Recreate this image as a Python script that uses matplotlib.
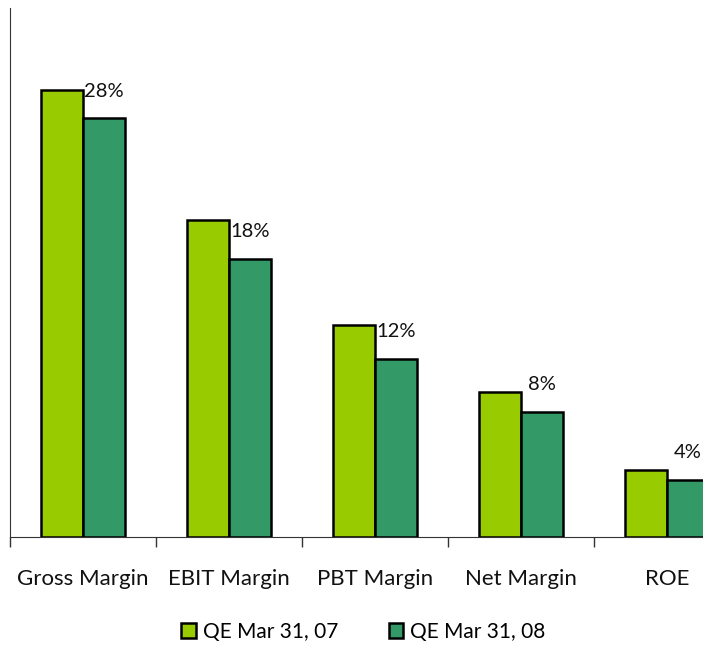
import matplotlib
matplotlib.use("Agg")
import matplotlib.pyplot as plt
import numpy as np

categories = ["Gross Margin", "EBIT Margin", "PBT Margin", "Net Margin", "ROE"]
series_names = ["QE Mar 31, 07", "QE Mar 31, 08"]
qe07 = [29.6, 21.0, 14.0, 9.6, 4.4]
qe08 = [27.7, 18.4, 11.8, 8.3, 3.8]
labels08 = ["28%", "18%", "12%", "8%", "4%"]

plt.rcParams['font.family'] = ['Lato', 'DejaVu Sans']

W, H = 703, 649
fig = plt.figure(figsize=(W / 100, H / 100), dpi=100)
ax = fig.add_axes([10 / W, (H - 537) / H, 730 / W, 529 / H])

x = np.arange(len(categories)) + 0.5
bw = 42 / 146
ax.bar(x - bw / 2, qe07, bw, color="#99CC00", edgecolor="black", linewidth=1.8, label=series_names[0])
ax.bar(x + bw / 2, qe08, bw, color="#339966", edgecolor="black", linewidth=1.8, label=series_names[1])

for xi, v, lab in zip(x + bw / 2, qe08, labels08):
    ax.annotate(lab, (xi, v), xytext=(0, 19.5), textcoords="offset points",
                ha="center", va="center", fontsize=14.5, color="#111111")

ax.set_xlim(0, len(categories))
ax.set_ylim(0, 35)
ax.set_xticks(np.arange(len(categories) + 1))
ax.set_xticklabels([])
ax.set_xticks(x, minor=True)
ax.set_xticklabels(categories, minor=True, fontsize=16, color="#111111")
ax.tick_params(axis="x", which="major", direction="out", length=7, width=1, color="#333333")
ax.tick_params(axis="x", which="minor", length=0, pad=23)
ax.set_yticks([])
for s in ["top", "right"]:
    ax.spines[s].set_visible(False)
ax.spines["left"].set_color("#333333")
ax.spines["bottom"].set_color("#333333")

handles = [plt.Rectangle((0, 0), 1, 1, facecolor=c, edgecolor="black", linewidth=1.8)
           for c in ["#99CC00", "#339966"]]
fig.legend(handles, series_names, loc="center", bbox_to_anchor=(0.5 + 12 / W, 1 - 632 / H),
           ncol=2, frameon=False, handlelength=0.7, handleheight=0.7,
           handletextpad=0.35, columnspacing=2.4, prop={'size': 15})

fig.savefig("out.png", dpi=100)
